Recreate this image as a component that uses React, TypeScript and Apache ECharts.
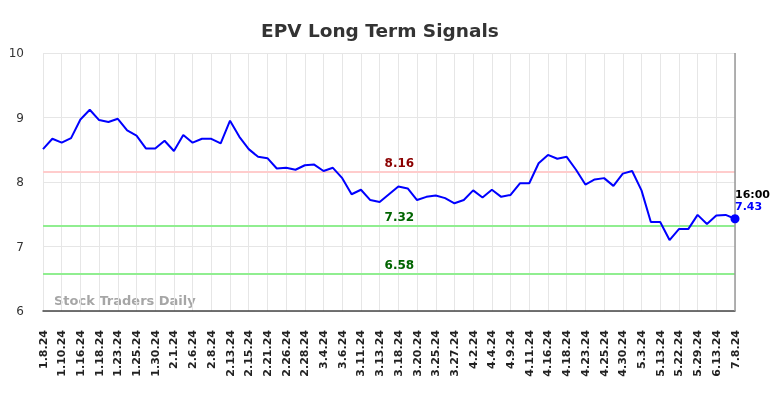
import React, { useEffect, useRef } from "react";
import * as echarts from "echarts";

const tickLabels = [
  "1.8.24", "1.10.24", "1.16.24", "1.18.24", "1.23.24", "1.25.24", "1.30.24",
  "2.1.24", "2.6.24", "2.8.24", "2.13.24", "2.15.24", "2.21.24", "2.26.24",
  "2.28.24", "3.4.24", "3.6.24", "3.11.24", "3.13.24", "3.18.24", "3.20.24",
  "3.25.24", "3.27.24", "4.2.24", "4.4.24", "4.9.24", "4.11.24", "4.16.24",
  "4.18.24", "4.23.24", "4.25.24", "4.30.24", "5.3.24", "5.13.24", "5.22.24",
  "5.29.24", "6.13.24", "7.8.24",
];

const prices = [
  8.51, 8.67, 8.61, 8.68, 8.97, 9.12, 8.96, 8.93, 8.98, 8.80,
  8.72, 8.52, 8.52, 8.64, 8.48, 8.73, 8.61, 8.67, 8.67, 8.60,
  8.95, 8.70, 8.51, 8.39, 8.37, 8.21, 8.22, 8.19, 8.26, 8.27,
  8.17, 8.22, 8.06, 7.81, 7.88, 7.72, 7.69, 7.81, 7.93, 7.90,
  7.72, 7.77, 7.79, 7.75, 7.67, 7.72, 7.87, 7.76, 7.88, 7.77,
  7.80, 7.98, 7.98, 8.29, 8.42, 8.36, 8.39, 8.19, 7.96, 8.04,
  8.06, 7.94, 8.13, 8.17, 7.87, 7.38, 7.38, 7.10, 7.27, 7.27,
  7.49, 7.35, 7.48, 7.49, 7.43,
];

const resistance = 8.16;
const supportHigh = 7.32;
const supportLow = 6.58;
const lastTime = "16:00";
const lastValue = 7.43;

const FONT = "DejaVu Sans";

export default function App() {
  const ref = useRef<HTMLDivElement>(null);

  useEffect(() => {
    if (!ref.current) return;
    const chart = echarts.init(ref.current, null, { renderer: "svg" });

    const categories: string[] = [];
    prices.forEach((_, i) => {
      categories.push(i % 2 === 0 ? tickLabels[i / 2] ?? "" : "");
    });
    const lastIdx = prices.length - 1;
    const labelIdx = 38;

    const levelPoint = (v: number, color: string) => ({
      coord: [labelIdx, v],
      symbol: "circle",
      symbolSize: 0,
      label: {
        show: true,
        position: "inside",
        offset: [1, -8.5],
        formatter: v.toFixed(2),
        color,
        fontWeight: "bold",
        fontSize: 12,
        fontFamily: FONT,
      },
    });

    chart.setOption({
      animation: false,
      title: {
        text: "EPV Long Term Signals",
        left: 256,
        top: 16,
        textStyle: { fontFamily: FONT, fontSize: 18.5, fontWeight: "bold", color: "#333" },
      },
      grid: { left: 43, right: 49, top: 53, bottom: 87 },
      xAxis: {
        type: "category",
        data: categories,
        boundaryGap: false,
        axisLine: { lineStyle: { color: "#444", width: 1.5 } },
        axisTick: { show: false },
        axisLabel: {
          interval: 1,
          rotate: 90,
          margin: 19,
          fontFamily: FONT,
          fontSize: 11,
          fontWeight: "bold",
          color: "#222",
        },
        splitLine: { show: true, interval: 1, lineStyle: { color: "#e6e6e6" } },
      },
      yAxis: {
        type: "value",
        min: 6,
        max: 10,
        interval: 1,
        axisLine: { show: false },
        axisTick: { show: false },
        axisLabel: { margin: 19, fontFamily: FONT, fontSize: 12, color: "#333" },
        splitLine: { lineStyle: { color: "#e6e6e6" } },
      },
      graphic: [
        {
          type: "text",
          left: 54,
          top: 294,
          style: {
            text: "Stock Traders Daily",
            font: `bold 13px "${FONT}"`,
            fill: "rgba(150,150,150,0.85)",
          },
        },
      ],
      series: [
        {
          type: "line",
          data: prices,
          showSymbol: false,
          symbol: "none",
          lineStyle: { color: "#0000ff", width: 2 },
          z: 5,
          markLine: {
            silent: true,
            symbol: "none",
            label: { show: false },
            data: [
              { yAxis: resistance, lineStyle: { color: "#ffcccc", width: 2, type: "solid" } },
              { yAxis: supportHigh, lineStyle: { color: "#90ee90", width: 2, type: "solid" } },
              { yAxis: supportLow, lineStyle: { color: "#90ee90", width: 2, type: "solid" } },
              { xAxis: lastIdx, lineStyle: { color: "#999", width: 1.5, type: "solid" } },
            ],
          },
          markPoint: {
            silent: true,
            data: [
              levelPoint(resistance, "#8b0000"),
              levelPoint(supportHigh, "#006400"),
              levelPoint(supportLow, "#006400"),
              {
                coord: [lastIdx, lastValue],
                symbol: "circle",
                symbolSize: 9,
                itemStyle: { color: "#0000ff" },
                label: {
                  show: true,
                  position: "inside",
                  align: "left",
                  verticalAlign: "bottom",
                  offset: [0, -6],
                  formatter: `{a|${lastTime}}\n{b|${lastValue.toFixed(2)}}`,
                  rich: {
                    a: { fontFamily: FONT, fontSize: 11, fontWeight: "bold", color: "#000", lineHeight: 12 },
                    b: { fontFamily: FONT, fontSize: 11, fontWeight: "bold", color: "#0000ff", lineHeight: 12 },
                  },
                },
              },
            ],
          },
        },
      ],
    });

    return () => chart.dispose();
  }, []);

  return (
    <div
      ref={ref}
      style={{ position: "fixed", left: 0, top: 0, width: 784, height: 398 }}
    />
  );
}
